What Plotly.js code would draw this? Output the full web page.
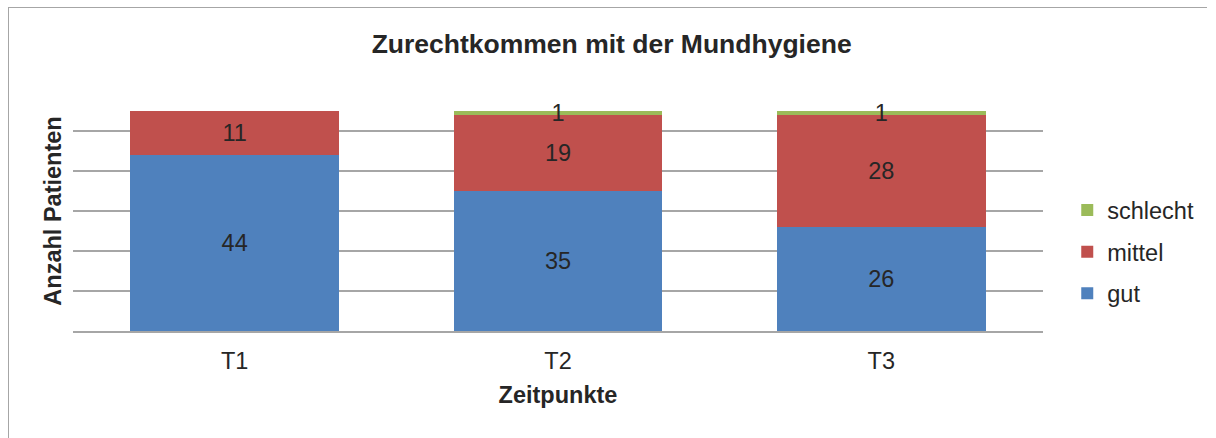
<!DOCTYPE html>
<html>
<head>
<meta charset="utf-8">
<script src="https://cdn.plot.ly/plotly-3.0.1.min.js"></script>
<style>
  html, body { margin: 0; padding: 0; background: #fff; }
  #wrap { position: relative; width: 1216px; height: 438px; overflow: hidden; }
  #chart { width: 1216px; height: 438px; }
  #frame { position: absolute; left: 8px; top: 7px; right: 9px; bottom: -10px;
           border-left: 1.5px solid #a6a6a6; border-top: 1.5px solid #a6a6a6; pointer-events: none; }
</style>
</head>
<body>
<div id="wrap">
  <div id="chart"></div>
  <div id="frame"></div>
</div>
<script>
const categories = ['T1', 'T2', 'T3'];
const gut = [44, 35, 26];
const mittel = [11, 19, 28];
const schlecht = [0, 1, 1];
const seriesNames = ['gut', 'mittel', 'schlecht'];
const colors = ['#4F81BD', '#C0504D', '#9BBB59'];
const legendRanks = [3, 2, 1];

const FONT = 'Arial, "Liberation Sans", sans-serif';
const TXT = 23.5;
const series = [gut, mittel, schlecht];

const traces = series.map((vals, i) => ({
  type: 'bar',
  name: seriesNames[i],
  legendgroup: seriesNames[i],
  legendrank: legendRanks[i],
  x: categories,
  y: vals,
  marker: { color: colors[i], line: { width: 0 } },
  text: vals.map(v => v > 0 ? String(v) : ''),
  textposition: 'inside',
  insidetextanchor: 'middle',
  constraintext: 'none',
  textangle: 0,
  textfont: { family: FONT, size: TXT, color: '#262626' },
  hoverinfo: 'x+y+name'
}));

const layout = {
  width: 1216,
  height: 438,
  barmode: 'stack',
  bargap: 0.355,
  paper_bgcolor: 'rgba(0,0,0,0)',
  plot_bgcolor: '#ffffff',
  margin: { l: 73, r: 173, t: 91, b: 107 },
  font: { family: FONT, color: '#262626' },
  title: {
    text: '<b>Zurechtkommen mit der Mundhygiene</b>',
    font: { family: FONT, size: 26.5, color: '#262626' },
    xref: 'container', yref: 'container',
    x: 0.503, y: 1 - 44 / 438, xanchor: 'center', yanchor: 'middle'
  },
  xaxis: {
    type: 'category',
    showline: true, linecolor: '#a6a6a6', linewidth: 1.5,
    ticks: '', showgrid: false,
    tickfont: { family: FONT, size: TXT, color: '#262626' },
    ticklabelstandoff: 8,
    title: { text: '<b>Zeitpunkte</b>', font: { family: FONT, size: TXT, color: '#262626' }, standoff: 14 }
  },
  yaxis: {
    range: [0, 60],
    dtick: 10,
    showticklabels: false,
    ticks: '',
    showgrid: true, gridcolor: '#a6a6a6', gridwidth: 1.5,
    zeroline: false,
    showline: false,
    title: { text: '<b>Anzahl Patienten</b>', font: { family: FONT, size: TXT, color: '#262626' }, standoff: 3 }
  },
  legend: {
    x: 1.025, xanchor: 'left',
    y: 0.33, yanchor: 'middle',
    traceorder: 'grouped',
    tracegroupgap: 8,
    font: { family: FONT, size: TXT, color: '#262626' },
    bgcolor: 'rgba(0,0,0,0)'
  },
  showlegend: true
};

Plotly.newPlot('chart', traces, layout, { displayModeBar: false, staticPlot: true });
</script>
</body>
</html>
